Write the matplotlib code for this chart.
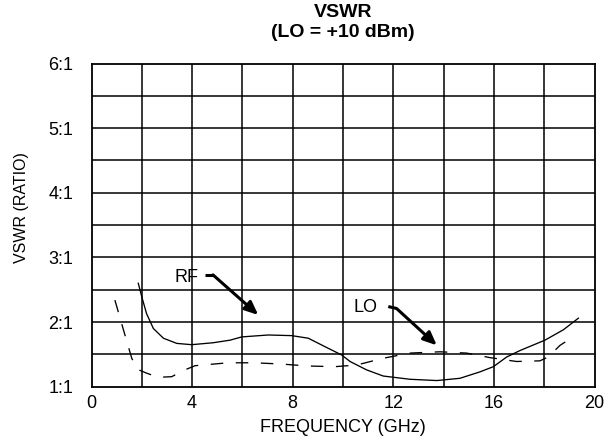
import matplotlib
matplotlib.use("Agg")
import matplotlib.pyplot as plt

plt.rcParams['font.family'] = ['Liberation Sans', 'DejaVu Sans']

rf_x = [1.86, 2.0, 2.19, 2.46, 2.86, 3.39, 3.98, 4.84, 5.51, 5.97, 7.03, 7.96, 8.62, 9.28, 9.95, 10.28, 10.94, 11.6, 12.66, 13.73, 14.65, 15.05, 15.45, 15.98, 16.51, 17.04, 18.03, 18.76, 19.36]
rf_y = [2.60, 2.39, 2.13, 1.90, 1.75, 1.67, 1.65, 1.68, 1.72, 1.77, 1.80, 1.79, 1.75, 1.62, 1.49, 1.39, 1.26, 1.165, 1.115, 1.095, 1.13, 1.18, 1.23, 1.31, 1.46, 1.56, 1.72, 1.88, 2.06]

lo_x = [0.93, 1.27, 1.6, 1.82, 2.19, 2.65, 3.19, 3.65, 4.12, 5.44, 6.5, 7.56, 8.62, 9.68, 10.54, 11.6, 12.66, 13.86, 14.92, 15.84, 16.9, 17.83, 18.16, 18.63, 19.03]
lo_y = [2.34, 1.88, 1.44, 1.27, 1.21, 1.145, 1.155, 1.25, 1.325, 1.37, 1.37, 1.35, 1.32, 1.31, 1.335, 1.44, 1.52, 1.54, 1.52, 1.45, 1.39, 1.40, 1.46, 1.64, 1.74]

x_ticks = [0, 4, 8, 12, 16, 20]
y_ticks = [1, 2, 3, 4, 5, 6]
y_labels = ['1:1', '2:1', '3:1', '4:1', '5:1', '6:1']

fig = plt.figure(figsize=(6.06, 4.42), dpi=100)
ax = fig.add_axes([91.5/606, 1-386.7/442, (594.5-91.5)/606, (386.7-63.5)/442])
ax.set_xlim(0, 20)
ax.set_ylim(1, 6)

for xv in range(2, 20, 2):
    ax.axvline(xv, color='black', lw=1.1, zorder=1)
for k in range(1, 10):
    ax.axhline(1 + 0.5*k, color='black', lw=1.1, zorder=1)
for s in ax.spines.values():
    s.set_linewidth(1.3)

ax.plot(rf_x, rf_y, color='black', lw=0.95, zorder=3)
ax.plot(lo_x, lo_y, color='black', lw=0.95, dashes=(9.5, 9.5), zorder=3)

ax.set_xticks(x_ticks)
ax.set_xticklabels([str(v) for v in x_ticks])
ax.set_yticks(y_ticks)
ax.set_yticklabels(y_labels)
ax.tick_params(length=0, labelsize=13)
ax.tick_params(axis='x', pad=6)
ax.tick_params(axis='y', pad=13)

xl = ax.set_xlabel('FREQUENCY (GHz)', fontsize=13)
xl.set_va('center')
ax.xaxis.set_label_coords(0.5, (386.7-427)/323.2)
yl = ax.set_ylabel('VSWR (RATIO)', fontsize=11.5)
yl.set_va('center')
ax.yaxis.set_label_coords((22-91.5)/503, (386.7-207.5)/323.2)

fig.text(343/606, 1-22.75/442, 'VSWR\n(LO = +10 dBm)', fontsize=14, fontweight='bold',
         ha='center', va='center', multialignment='center', linespacing=1.25)

# RF annotation
ax.text(3.76, 2.69, 'RF', fontsize=13, ha='center', va='center')
ax.plot([4.51, 4.83], [2.73, 2.73], color='black', lw=2.2, solid_capstyle='butt')
ax.annotate('', xy=(6.63, 2.11), xytext=(4.83, 2.73),
            arrowprops=dict(arrowstyle='-|>,head_length=0.8,head_width=0.35', color='black', lw=2.2, shrinkA=0, shrinkB=0))

# LO annotation
ax.text(10.88, 2.22, 'LO', fontsize=13, ha='center', va='center')
ax.plot([11.8, 12.13], [2.24, 2.21], color='black', lw=2.2, solid_capstyle='butt')
ax.annotate('', xy=(13.73, 1.64), xytext=(12.13, 2.21),
            arrowprops=dict(arrowstyle='-|>,head_length=0.8,head_width=0.35', color='black', lw=2.2, shrinkA=0, shrinkB=0))

fig.savefig('out.png', dpi=100)
